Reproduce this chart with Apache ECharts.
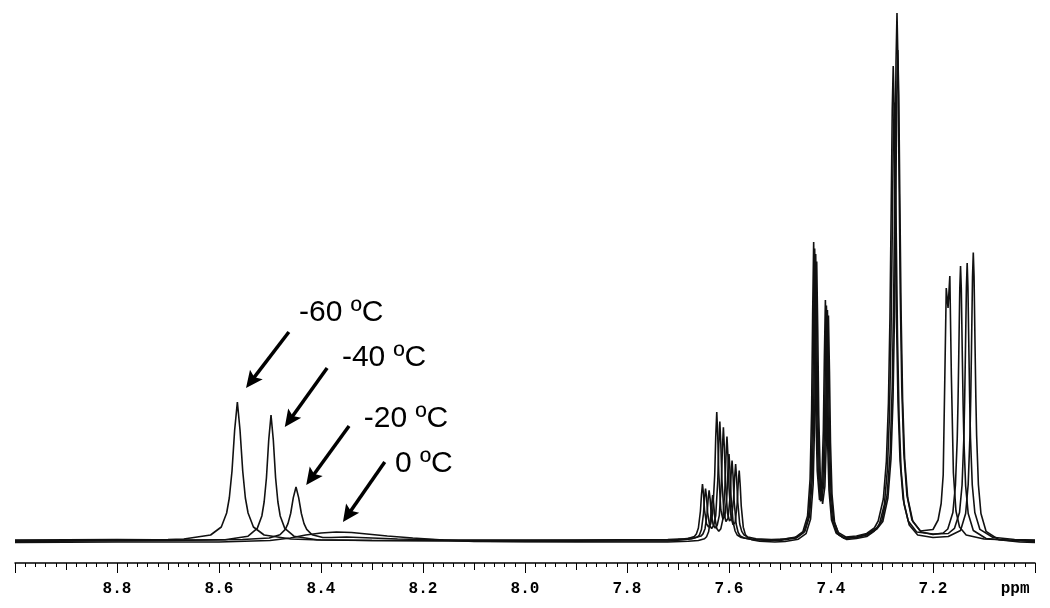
<!DOCTYPE html>
<html><head><meta charset="utf-8">
<script src="https://cdn.jsdelivr.net/npm/echarts@6/dist/echarts.min.js"></script>
<style>html,body{margin:0;padding:0;background:#fff}#c{width:1050px;height:608px}</style>
</head><body><div id="c"></div>
<script>
// ---- data (chemical shift ppm, intensity) ----
const traceMinus60 = [
[9.00,0.5],[8.90,0.5],[8.80,1],[8.70,1.5],[8.669,2],[8.6165,6],[8.5955,14],[8.585,28],[8.5798,43],[8.5745,70],[8.5693,111],[8.564,139],[8.5588,111],[8.5535,70],[8.5483,43],[8.543,28],[8.5325,14],[8.5115,6],[8.459,2],[8.40,1],[8.30,0.5],[8.00,0.5],[7.80,1],[7.72,1],
[7.700,1.5],[7.680,2.5],[7.668,4.5],[7.664,7],[7.660,13],[7.656,30],[7.654,46],[7.652,57],[7.650,47],[7.648,31],[7.644,17],[7.640,14],[7.636,17],[7.632,28],[7.628,66],[7.626,104],[7.624,129],[7.622,104],[7.620,67],[7.616,31],[7.612,22],[7.608,25],[7.604,47],[7.602,71],[7.600,87],[7.598,70],[7.596,44],[7.592,19],[7.588,10],[7.584,6],[7.576,3.5],[7.560,2],[7.530,1],[7.50,1.5],
[7.47,3.5],[7.455,9.4],[7.446,25],[7.441,62],[7.438,131],[7.436,226],[7.434,299],[7.432,227],[7.430,135],[7.427,70],[7.4225,41],[7.418,60],[7.415,111],[7.413,184],[7.411,241],[7.409,182],[7.407,106],[7.404,51],[7.399,21],[7.390,8],[7.375,3],[7.35,4],[7.33,6.5],[7.31,13],
[7.30,21],[7.29,46],[7.284,88],[7.280,153],[7.277,247],[7.2745,372],[7.2725,480],[7.2706,528],[7.2687,480],[7.2667,372],[7.2642,247],[7.2612,153],[7.2572,88],[7.2512,46],[7.2412,21],[7.225,10],
[7.20,11.5],[7.19,21],[7.184,37.5],[7.180,66],[7.177,158],[7.174,253],[7.1705,233],[7.167,265],[7.164,166],[7.160,68],[7.155,30],[7.148,14],[7.135,6],[7.10,2],[7.05,1],[7.00,0.5]
];
const traceMinus40 = [
[9.00,-0.5],[8.85,0],[8.70,0.5],[8.588,1.3],[8.543,4.8],[8.525,12.6],[8.516,25],[8.5115,39],[8.507,63],[8.5025,101],[8.498,126],[8.4935,101],[8.489,63],[8.4845,39],[8.480,25],[8.471,12.6],[8.453,4.8],[8.408,1.3],[8.30,0.5],[8.00,-0.5],[7.80,0],[7.72,0],
[7.694,1],[7.674,2],[7.662,4],[7.658,6],[7.654,11.5],[7.650,27.5],[7.648,42.5],[7.646,52.5],[7.644,43.5],[7.642,28.5],[7.638,15.5],[7.634,12.5],[7.630,15.5],[7.626,25.5],[7.622,60.5],[7.620,96.5],[7.618,119.5],[7.616,96.5],[7.614,61.5],[7.610,28.5],[7.606,19.5],[7.602,22.5],[7.598,43.5],[7.596,65.5],[7.594,80.5],[7.592,64.5],[7.590,40.5],[7.586,17],[7.582,8.5],[7.578,5],[7.570,3],[7.554,1.5],[7.524,0.5],[7.50,0.5],
[7.468,3],[7.453,8.7],[7.444,24],[7.439,60.5],[7.436,127.5],[7.434,220.5],[7.432,292.5],[7.430,221.5],[7.428,131.5],[7.425,68.5],[7.4205,39.5],[7.416,58.5],[7.413,108.5],[7.411,179.5],[7.409,235.5],[7.407,177.5],[7.405,103.5],[7.402,49.5],[7.397,20.5],[7.388,7.5],[7.373,2.5],[7.35,3.5],[7.33,6],[7.31,12],
[7.2984,19.5],[7.2884,43],[7.2824,82],[7.2784,142],[7.2754,230],[7.2729,346],[7.2709,446],[7.269,491],[7.2671,446],[7.2651,346],[7.2626,230],[7.2596,142],[7.2556,82],[7.2496,43],[7.2396,19.5],[7.223,9],
[7.20,6.5],[7.18,8],[7.171,12],[7.161,28.5],[7.156,56],[7.1525,102],[7.151,137.5],[7.1495,184.5],[7.1475,252],[7.146,275],[7.1445,252],[7.1425,184.5],[7.141,137.5],[7.1395,102],[7.136,55],[7.131,27.5],[7.121,10.5],[7.096,2.5],[7.05,0.5],[7.00,-0.5]
];
const traceMinus20 = [
[9.00,1],[8.80,1.5],[8.65,1],[8.554,1.5],[8.5015,3],[8.4805,6.3],[8.470,11.6],[8.4648,17.4],[8.4595,27.5],[8.4543,43.4],[8.449,54],[8.4438,43.4],[8.4385,27.5],[8.4333,17.4],[8.428,11.6],[8.4175,6.3],[8.3965,3.5],[8.38,3.5],[8.35,4],[8.30,3],[8.25,2],[8.15,1],[7.90,1],[7.72,1.5],
[7.687,2.3],[7.667,3.2],[7.655,4.9],[7.651,7.1],[7.647,12.3],[7.643,27],[7.641,41],[7.639,50.6],[7.637,42],[7.635,28],[7.631,16],[7.627,13],[7.623,16],[7.619,25.7],[7.615,58],[7.613,91.5],[7.611,113.6],[7.609,92],[7.607,59],[7.603,28],[7.599,20],[7.595,22.5],[7.591,42],[7.589,63],[7.587,77],[7.585,62],[7.583,40],[7.579,17],[7.575,9.6],[7.571,6.3],[7.563,4],[7.547,2.3],[7.517,1.5],[7.49,2],
[7.466,4.3],[7.451,10],[7.442,25],[7.437,60],[7.434,126],[7.432,217],[7.430,287],[7.428,218],[7.426,130],[7.423,68],[7.4185,40],[7.414,58],[7.411,107],[7.409,177],[7.407,231],[7.405,175],[7.403,102],[7.400,50],[7.395,21],[7.386,8.6],[7.371,4],[7.35,5],[7.33,7.5],[7.315,13],
[7.3074,20],[7.2974,42],[7.2914,80],[7.2874,138],[7.2844,223],[7.2819,335],[7.2799,432],[7.278,475],[7.2761,432],[7.2741,335],[7.2716,223],[7.2686,138],[7.2646,80],[7.2586,42],[7.2486,20],[7.232,9],
[7.20,7],[7.17,7.5],[7.158,12.6],[7.148,28.5],[7.143,56],[7.1395,103],[7.138,139],[7.1365,186],[7.1345,254],[7.133,278],[7.1315,254],[7.1295,186],[7.128,139],[7.1265,103],[7.123,56],[7.118,28.5],[7.108,11.6],[7.083,3.7],[7.04,1.5],[7.00,1]
];
const traceZero = [
[9.00,-1.5],[8.80,-1],[8.60,-1],[8.50,0.5],[8.46,3],[8.43,6],[8.40,8],[8.37,9],[8.34,8.5],[8.31,7],[8.27,5],[8.22,3],[8.16,1],[8.10,-0.5],[7.90,-1],[7.72,-1],
[7.680,-0.3],[7.660,0.5],[7.648,2.2],[7.644,4.2],[7.640,9.2],[7.636,23],[7.634,36.5],[7.632,46],[7.630,37],[7.628,24.3],[7.624,12.5],[7.620,9.7],[7.616,12.3],[7.612,21.8],[7.608,52.5],[7.606,83.5],[7.604,104.5],[7.602,84.5],[7.600,53.5],[7.596,23.5],[7.592,16.2],[7.588,18.5],[7.584,37],[7.582,57],[7.580,70.5],[7.578,55.5],[7.576,35],[7.572,13.8],[7.568,6.6],[7.564,3.5],[7.556,1.4],[7.540,-0.3],[7.510,-1],[7.49,-0.5],
[7.464,1.8],[7.449,7.3],[7.440,22],[7.435,56.5],[7.432,121.5],[7.430,210.5],[7.428,279.5],[7.426,211.5],[7.424,125.5],[7.421,64.5],[7.4165,37],[7.412,54.5],[7.409,102.5],[7.407,171.5],[7.405,225.5],[7.403,169.5],[7.401,98.5],[7.398,46.5],[7.393,18.5],[7.384,6],[7.369,1.5],[7.35,2.5],[7.33,4.5],[7.315,10],
[7.3054,16],[7.2954,36.5],[7.2894,71.5],[7.2854,125.5],[7.2824,204.5],[7.2799,308.5],[7.2779,398.5],[7.276,438.5],[7.2741,398.5],[7.2721,308.5],[7.2696,204.5],[7.2666,125.5],[7.2626,71.5],[7.2566,36.5],[7.2466,16],[7.230,6],
[7.20,3.5],[7.17,4.5],[7.146,10.5],[7.136,27.5],[7.131,56.5],[7.1275,106],[7.126,143.5],[7.1245,193.5],[7.1225,264.5],[7.121,288.5],[7.1195,264.5],[7.1175,193.5],[7.116,143.5],[7.1145,106],[7.111,56.5],[7.106,27.5],[7.096,9.7],[7.071,1.3],[7.03,-1],[7.00,-1.5]
];
const traceNames = ['-60 ºC', '-40 ºC', '-20 ºC', '0 ºC'];
const tickLabels = ['8.8', '8.6', '8.4', '8.2', '8.0', '7.8', '7.6', '7.4', '7.2'];
const axisUnit = 'ppm';

// ---- chart ----
const traces = [traceMinus60, traceMinus40, traceMinus20, traceZero];
const chart = echarts.init(document.getElementById('c'), null, {renderer: 'canvas'});
const labelFont = '"Liberation Mono", "Courier New", monospace';
const baseAxis = {
  type: 'value', min: 7.0, max: 9.0, inverse: true, position: 'bottom', offset: 0,
  splitLine: {show: false}
};
chart.setOption({
  animation: false,
  backgroundColor: '#fff',
  grid: {left: 15, right: 15, top: 10, bottom: 45},
  xAxis: [
    Object.assign({}, baseAxis, {
      interval: 0.1,
      axisLine: {show: true, onZero: false, lineStyle: {color: '#000', width: 1.5}},
      axisTick: {show: true, length: 7, lineStyle: {color: '#000', width: 1}},
      minorTick: {show: true, splitNumber: 5, length: 4, lineStyle: {color: '#000', width: 1}},
      axisLabel: {show: false}
    }),
    Object.assign({}, baseAxis, {
      interval: 0.2,
      axisLine: {show: false, onZero: false},
      axisTick: {show: true, length: 10, lineStyle: {color: '#000', width: 1}},
      axisLabel: {
        show: true, margin: 18, color: '#000', fontFamily: labelFont, fontWeight: 'bold', fontSize: 16,
        formatter: v => { const s = v.toFixed(1); return tickLabels.indexOf(s) >= 0 ? s : ''; }
      }
    })
  ],
  yAxis: {type: 'value', min: -22, max: 531, show: false, splitLine: {show: false}},
  series: traces.map((d, i) => ({
    name: traceNames[i], type: 'line', data: d, xAxisIndex: 0,
    showSymbol: false, symbol: 'none', smooth: false,
    lineStyle: {color: '#111', width: 1.6}, z: 2
  }))
});

// annotations (arrow from -> tip, label anchored left-middle), in data coordinates
const annot = [
  {label: traceNames[0], at: [8.443, 228], from: [8.463, 209], to: [8.547, 153]},
  {label: traceNames[1], at: [8.359, 183], from: [8.388, 173], to: [8.471, 114]},
  {label: traceNames[2], at: [8.316, 122], from: [8.345, 115], to: [8.429, 56]},
  {label: traceNames[3], at: [8.255, 77],  from: [8.275, 79],  to: [8.357, 19]}
];
const px = p => chart.convertToPixel({xAxisIndex: 0, yAxisIndex: 0}, p);
const gfx = [];
annot.forEach(a => {
  const A = px(a.from), B = px(a.to), T = px(a.at);
  const dx = B[0] - A[0], dy = B[1] - A[1], len = Math.hypot(dx, dy);
  const ux = dx / len, uy = dy / len, nx = -uy, ny = ux;
  const L = 17, W = 8;
  const base = [B[0] - ux * L, B[1] - uy * L];
  gfx.push({type: 'line', shape: {x1: A[0], y1: A[1], x2: B[0] - ux * L * 0.6, y2: B[1] - uy * L * 0.6},
    style: {stroke: '#000', lineWidth: 3.5}, silent: true});
  gfx.push({type: 'polygon', shape: {points: [B,
    [base[0] + nx * W, base[1] + ny * W],
    [B[0] - ux * L * 0.8, B[1] - uy * L * 0.8],
    [base[0] - nx * W, base[1] - ny * W]]}, style: {fill: '#000'}, silent: true});
  gfx.push({type: 'text', x: T[0], y: T[1], style: {text: a.label, fill: '#000',
    font: '30px "Liberation Sans", Arial, sans-serif', textAlign: 'left', verticalAlign: 'middle', textVerticalAlign: 'middle'}, silent: true});
});
const ppmPos = px([7.039, 0]);
gfx.push({type: 'text', x: ppmPos[0], y: 589, style: {text: axisUnit, fill: '#000',
  font: 'bold 16px ' + labelFont, textAlign: 'center', verticalAlign: 'middle', textVerticalAlign: 'middle'}, silent: true});
chart.setOption({graphic: gfx});
</script></body></html>
